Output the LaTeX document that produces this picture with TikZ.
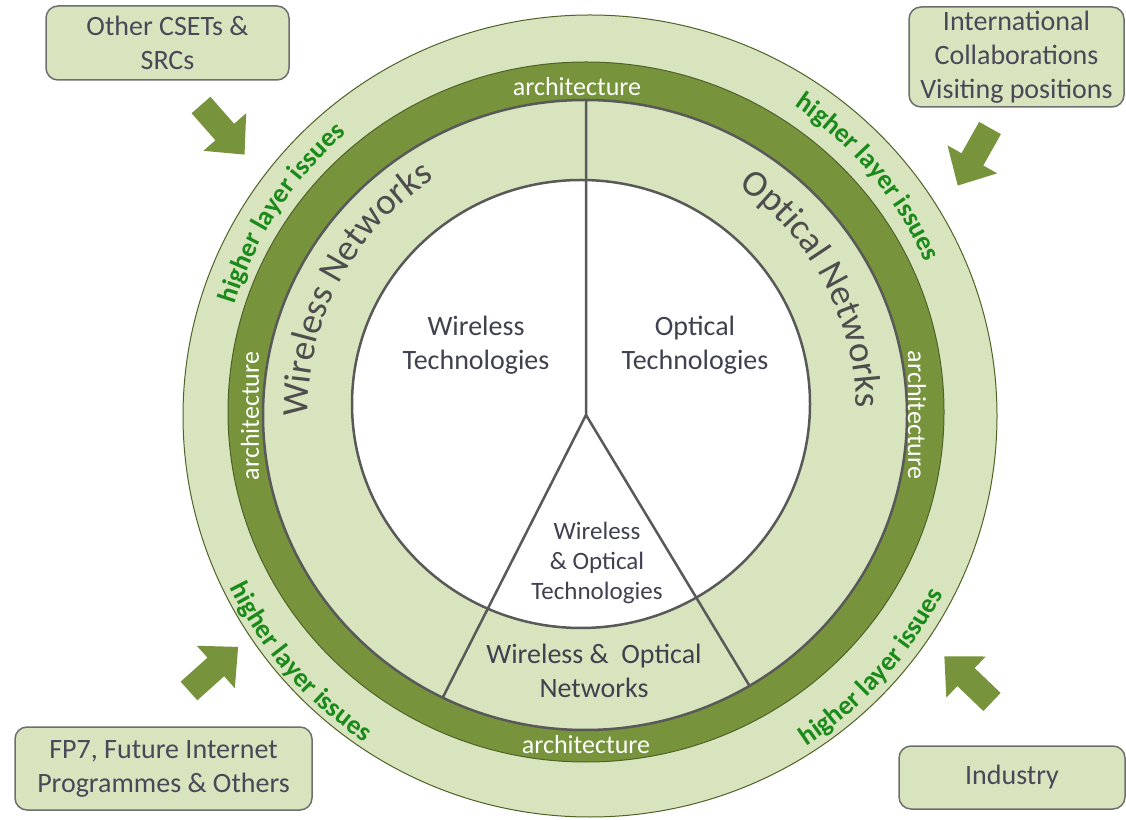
\documentclass[tikz,border=0pt]{standalone}
\usepackage{fontspec}
\setmainfont{Carlito}
\usetikzlibrary{decorations.text}
\definecolor{lightg}{HTML}{D7E4BD}
\definecolor{darkg}{HTML}{77933C}
\definecolor{edgeg}{HTML}{4F6228}
\definecolor{linegray}{HTML}{595959}
\definecolor{boxtext}{HTML}{4A4858}
\definecolor{labeltext}{HTML}{40404F}
\definecolor{netgray}{HTML}{4D4D4D}
\definecolor{hlgreen}{HTML}{1A8A1A}
\definecolor{boxedge}{HTML}{6E6E6E}
\newcommand\hlfont{\fontsize{27}{27}\selectfont\bfseries\color{hlgreen}}
\newcommand\netfont{\fontsize{37}{37}\selectfont\color{netgray}}
\begin{document}
\begin{tikzpicture}[x=1pt,y=1pt,
  infobox/.style={draw=boxedge, line width=1.5pt, fill=lightg, rounded corners=12pt, align=center, text=boxtext, font=\fontsize{28}{34}\selectfont, inner sep=0pt},
  ilabel/.style={align=center, text=labeltext, font=\fontsize{28}{34}\selectfont, inner sep=0pt},
  archlabel/.style={text=white, font=\fontsize{26}{30}\selectfont, inner sep=0pt},
  blockarrow/.style={fill=darkg},
  divider/.style={draw=linegray, line width=2.5pt}]
\useasboundingbox (0,0) rectangle (1126,819);

% rings
\draw[fill=lightg, draw=edgeg, line width=1pt] (590,403) ellipse [x radius=407, y radius=401];
\draw[fill=darkg, draw=edgeg, line width=1pt] (586,407) ellipse [x radius=358, y radius=350];
\draw[fill=lightg, draw=linegray, line width=2.5pt] (585,404) ellipse [x radius=322, y radius=315];
\draw[fill=white, draw=linegray, line width=2.5pt] (581,415) ellipse [x radius=229, y radius=224];

% dividers
\coordinate (J) at (586,404);
\coordinate (T) at (586,719);
\coordinate (L) at (443,122);
\coordinate (R) at (749,134);
\draw[divider] (T) -- (J) -- (L);
\draw[divider] (J) -- (R);

% inner labels
\node[ilabel] (wt) at (476,474) {Wireless\\Technologies};
\node[ilabel] (ot) at (695,474) {Optical\\Technologies};
\node[ilabel, font=\fontsize{25}{30}\selectfont] (wot) at (597,256) {Wireless\\\& Optical\\Technologies};
\node[ilabel] (won) at (594,148) {Wireless \&~~Optical\\Networks};

% architecture labels
\node[archlabel] (atop) at (577,732) {architecture};
\node[archlabel] (abot) at (586,74) {architecture};
\node[archlabel, rotate=90] (aleft) at (250,403) {architecture};
\node[archlabel, rotate=-90] (aright) at (917,404) {architecture};

% networks along arcs
\path[decorate, decoration={text along path, text align=center, text={|\netfont|Wireless Networks}}]
  (584,408) ++(197:276) arc[start angle=197, end angle=107, radius=276];
\path[decorate, decoration={text along path, text align=center, text={|\netfont|Optical Networks}}]
  (584,408) ++(73:272) arc[start angle=73, end angle=-17, radius=272];

% higher layer issues
\path[decorate, decoration={text along path, text align=center, text={|\hlfont|higher layer issues}}]
  (588,407) ++(177:369) arc[start angle=177, end angle=117, radius=369];
\path[decorate, decoration={text along path, text align=center, text={|\hlfont|higher layer issues}}]
  (588,407) ++(70:369) arc[start angle=70, end angle=10, radius=369];
\path[decorate, decoration={text along path, text align=center, text={|\hlfont|higher layer issues}}]
  (588,407) ++(191:399) arc[start angle=191, end angle=251, radius=399];
\path[decorate, decoration={text along path, text align=center, text={|\hlfont|higher layer issues}}]
  (588,407) ++(288:399) arc[start angle=288, end angle=348, radius=399];

% boxes
\node[infobox, minimum width=243pt, minimum height=74pt] (b1) at (167.5,776) {Other CSETs \&\\SRCs};
\node[infobox, minimum width=215pt, minimum height=100pt] (b2) at (1016.5,762) {International\\Collaborations\\Visiting positions};
\node[infobox, minimum width=297pt, minimum height=83pt] (b3) at (163.5,50.5) {FP7, Future Internet\\Programmes \& Others};
\node[infobox, minimum width=226pt, minimum height=63pt] (b4) at (1012,41.5) {Industry};

% block arrows
\foreach \px/\py/\ang in {201/714/-48.7, 990/691/-119.3, 189/128/41.9, 992/117/136.2}{
  \fill[blockarrow, shift={(\px,\py)}, rotate=\ang]
    (0,-12.5) -- (36,-12.5) -- (36,-28.5) -- (66,0) -- (36,28.5) -- (36,12.5) -- (0,12.5) -- cycle;
}
\end{tikzpicture}
\end{document}
